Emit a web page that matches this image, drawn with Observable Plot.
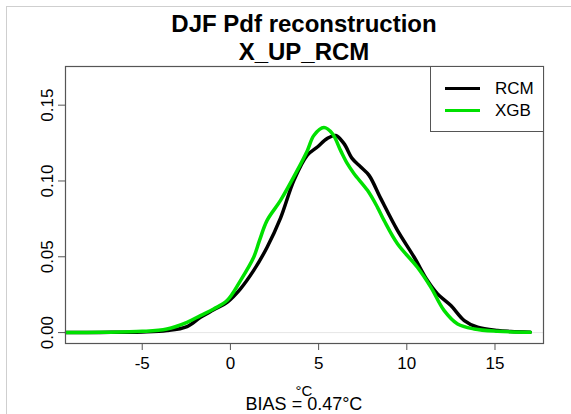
<!DOCTYPE html>
<html>
<head>
<meta charset="utf-8">
<script src="https://cdn.jsdelivr.net/npm/d3@7"></script>
<script src="https://cdn.jsdelivr.net/npm/@observablehq/plot@0.6"></script>
<style>
  html, body { margin: 0; padding: 0; background: #fff; }
  #wrap { position: relative; width: 571px; height: 414px; font-family: "Liberation Sans", Arial, sans-serif; color: #000; overflow: hidden; }
  #wrap svg { position: absolute; left: 0; top: 0; font-family: "Liberation Sans", Arial, sans-serif; }
  .border { position: absolute; left: 6px; top: 6px; width: 600px; height: 420px; border-top: 1.5px solid #cfcfcf; border-left: 1.5px solid #cfcfcf; }
  .t { position: absolute; left: 65px; width: 478px; text-align: center; white-space: nowrap; }
  .title { font-weight: bold; font-size: 24px; line-height: 24px; }
  #legend { position: absolute; left: 430px; top: 66px; width: 112px; height: 64px; border: 1.2px solid #555; border-right: none; background: #fff; }
  .lg { position: absolute; left: 14px; width: 35px; height: 0; border-top: 3.5px solid #000; }
  .lt { position: absolute; left: 64px; font-size: 17px; line-height: 17px; }
</style>
</head>
<body>
<div id="wrap">
  <div class="border"></div>
</div>
<script>
// ---- data ----
const titleLines = ["DJF Pdf reconstruction", "X_UP_RCM"];
const xLabel = "°C";
const biasText = "BIAS = 0.47°C";
const seriesNames = ["RCM", "XGB"];
const seriesColors = ["#000000", "#00e000"];
const xTicks = [-5, 0, 5, 10, 15];
const yTicks = [0, 0.05, 0.10, 0.15];

const rcmX = [-9.3, -7.4, -5, -3.6, -2.46, -1.7, -0.95, -0.19, 0.57, 1.32, 2.08, 2.84, 3.6, 4.36, 4.93, 5.49, 5.97, 6.44, 6.91, 7.39, 7.86, 8.52, 9.47, 10.42, 11.17, 11.74, 12.5, 13.26, 14.01, 15.15, 15.9, 17.0];
const rcmY = [0, 0.0001, 0.0004, 0.0013, 0.004, 0.0101, 0.015, 0.02, 0.0289, 0.041, 0.0563, 0.0755, 0.1004, 0.117, 0.1224, 0.128, 0.130, 0.1246, 0.1147, 0.1092, 0.1037, 0.0885, 0.0674, 0.0497, 0.0343, 0.0255, 0.0178, 0.0079, 0.0035, 0.0013, 0.0007, 0.0002];

const xgbX = [-9.3, -7.4, -5, -3.6, -2.46, -1.7, -0.95, -0.19, 0.57, 1.32, 1.65, 2.08, 2.84, 3.79, 4.36, 4.73, 5.3, 5.78, 6.25, 6.63, 7.01, 7.77, 8.33, 8.71, 9.47, 10.6, 11.36, 12.12, 12.88, 13.82, 15.15, 17.0];
const xgbY = [0, 0.0002, 0.0008, 0.0024, 0.0068, 0.0112, 0.0156, 0.0211, 0.0343, 0.0497, 0.0608, 0.074, 0.0872, 0.107, 0.120, 0.130, 0.1352, 0.1312, 0.120, 0.1114, 0.1048, 0.0938, 0.0828, 0.074, 0.0586, 0.0431, 0.030, 0.0145, 0.0057, 0.0024, 0.0009, 0.0002];

// ---- build ----
const rcm = rcmX.map((x, i) => ({x, y: rcmY[i]}));
const xgb = xgbX.map((x, i) => ({x, y: xgbY[i]}));

const chart = Plot.plot({
  width: 571,
  height: 414,
  marginLeft: 65,
  marginRight: 28,
  marginTop: 66,
  marginBottom: 71,
  style: {fontFamily: "'Liberation Sans', Arial, sans-serif", background: "transparent"},
  x: {domain: [-9.35, 17.75]},
  y: {domain: [-0.0072, 0.1755]},
  marks: [
    Plot.ruleY([0], {stroke: "#e6e6e6", strokeWidth: 1}),
    Plot.line(rcm, {x: "x", y: "y", stroke: seriesColors[0], strokeWidth: 3.5, curve: "catmull-rom"}),
    Plot.line(xgb, {x: "x", y: "y", stroke: seriesColors[1], strokeWidth: 3.5, curve: "catmull-rom"}),
    Plot.frame({stroke: "#555", strokeWidth: 1.2}),
    Plot.axisX(xTicks, {tickSize: 7, tickPadding: 6, fontSize: 17, label: null, stroke: "#555", fill: "#000", tickFormat: d => String(d)}),
    Plot.axisY(yTicks, {tickSize: 7, tickPadding: 6, fontSize: 17, label: null, tickFormat: d => d.toFixed(2), tickRotate: -90, stroke: "#555", fill: "#000"})
  ]
});

const wrap = document.getElementById("wrap");
wrap.appendChild(chart);

function addText(cls, txt, top, extra) {
  const d = document.createElement("div");
  d.className = "t " + cls;
  d.textContent = txt;
  d.style.top = top + "px";
  if (extra) Object.assign(d.style, extra);
  wrap.appendChild(d);
}
addText("title", titleLines[0], 12);
addText("title", titleLines[1], 40);
addText("", xLabel, 383, {fontSize: "15px", lineHeight: "15px"});
addText("", biasText, 395, {fontSize: "18px", lineHeight: "18px"});

const legend = document.createElement("div");
legend.id = "legend";
seriesNames.forEach((name, i) => {
  const l = document.createElement("div");
  l.className = "lg";
  l.style.top = (20 + i * 22) + "px";
  l.style.borderTopColor = seriesColors[i];
  legend.appendChild(l);
  const t = document.createElement("div");
  t.className = "lt";
  t.textContent = name;
  t.style.top = (13 + i * 22) + "px";
  legend.appendChild(t);
});
wrap.appendChild(legend);
</script>
</body>
</html>
